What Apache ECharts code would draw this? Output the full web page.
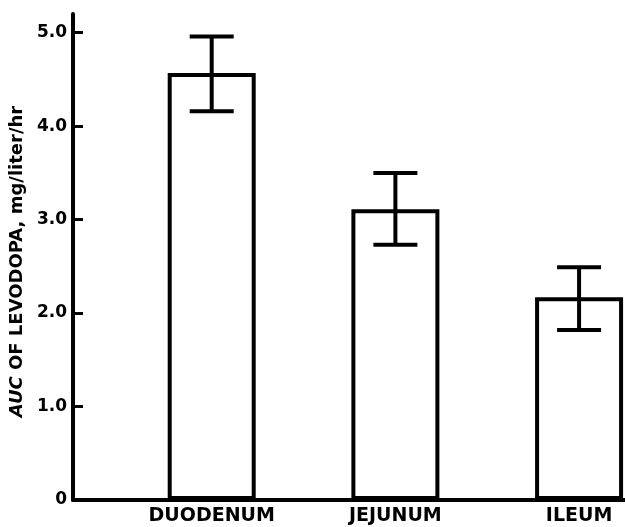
<!DOCTYPE html>
<html>
<head>
<meta charset="utf-8">
<script src="https://cdn.jsdelivr.net/npm/echarts@6/dist/echarts.min.js"></script>
<style>
html,body{margin:0;padding:0;background:#fff;}
#chart{width:625px;height:527px;}
</style>
</head>
<body>
<div id="chart"></div>
<script>
const categories = ['DUODENUM', 'JEJUNUM', 'ILEUM'];
const positions = [1, 2, 3];
const means = [4.57, 3.11, 2.17];
const errLow = [4.16, 2.73, 1.82];
const errHigh = [4.96, 3.50, 2.49];
const yTickValues = [0, 1, 2, 3, 4, 5];

const FONT = '"DejaVu Sans", "Liberation Sans", Arial, sans-serif';

const barData = positions.map((p, i) => [p, means[i]]);
const errData = positions.map((p, i) => [p, errLow[i], errHigh[i]]);

const chart = echarts.init(document.getElementById('chart'), null, { renderer: 'canvas' });
chart.setOption({
  animation: false,
  backgroundColor: '#fff',
  grid: { left: 72, right: 0, top: 14, bottom: 27, containLabel: false },
  xAxis: {
    type: 'value',
    min: 0.245,
    max: 3.25,
    splitLine: { show: false },
    axisLine: { show: true, lineStyle: { color: '#000', width: 4 } },
    axisTick: { show: false },
    axisLabel: {
      customValues: positions,
      formatter: v => categories[Math.round(v) - 1] || '',
      color: '#000',
      fontFamily: FONT,
      fontWeight: 'bold',
      fontSize: 19,
      margin: 7
    }
  },
  yAxis: {
    type: 'value',
    min: 0,
    max: 5.2,
    splitLine: { show: false },
    axisLine: { show: true, lineStyle: { color: '#000', width: 4 } },
    axisTick: { show: true, inside: true, length: 10, lineStyle: { color: '#000', width: 3 }, customValues: yTickValues },
    axisLabel: {
      customValues: yTickValues,
      formatter: v => (v === 0 ? '0' : v.toFixed(1)),
      color: '#000',
      fontFamily: FONT,
      fontWeight: 'bold',
      fontSize: 17,
      margin: 6
    },
    name: '{i|AUC} OF LEVODOPA, mg/liter/hr',
    nameLocation: 'middle',
    nameRotate: 90,
    nameGap: 41,
    nameTextStyle: {
      color: '#000',
      fontFamily: FONT,
      fontWeight: 'bold',
      fontSize: 18,
      padding: [0, 9, 0, 0],
      rich: {
        i: { fontStyle: 'italic', fontWeight: 'bold', fontFamily: FONT, fontSize: 18, color: '#000' }
      }
    }
  },
  series: [
    {
      type: 'bar',
      data: barData,
      barWidth: 88,
      itemStyle: { color: '#fff', borderColor: '#000', borderWidth: 4 },
      z: 2
    },
    {
      type: 'custom',
      data: errData,
      z: 3,
      renderItem: function (params, api) {
        const x = api.value(0);
        const top = api.coord([x, api.value(2)]);
        const bot = api.coord([x, api.value(1)]);
        const half = 22;
        const style = { stroke: '#000', lineWidth: 4, fill: null };
        return {
          type: 'group',
          children: [
            { type: 'line', shape: { x1: top[0], y1: top[1], x2: bot[0], y2: bot[1] }, style: style },
            { type: 'line', shape: { x1: top[0] - half, y1: top[1], x2: top[0] + half, y2: top[1] }, style: style },
            { type: 'line', shape: { x1: bot[0] - half, y1: bot[1], x2: bot[0] + half, y2: bot[1] }, style: style }
          ]
        };
      }
    }
  ]
});
</script>
</body>
</html>
